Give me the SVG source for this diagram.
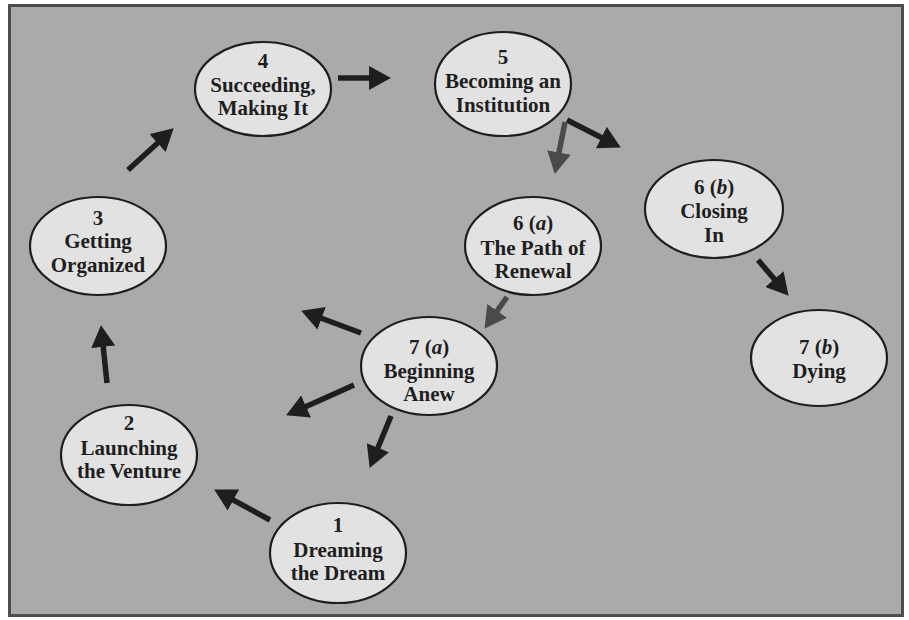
<svg xmlns="http://www.w3.org/2000/svg" width="909" height="620" viewBox="0 0 909 620">
<style>
.node ellipse{fill:#e2e2e2;stroke:#1e1e1e;stroke-width:2.2}
.node text{font-family:"Liberation Serif","Times New Roman",serif;font-weight:bold;font-size:21px;fill:#1e1e1e;text-anchor:middle}
.arr{stroke:#1e1e1e;stroke-width:5.5;fill:none;marker-end:url(#ah)}
.arr.g{stroke:#4a4a4a;marker-end:url(#ahg)}
</style>
<defs>
<marker id="ah" markerUnits="userSpaceOnUse" markerWidth="22" markerHeight="24" viewBox="0 0 20 22" refX="10" refY="11" orient="auto">
<path d="M0,0 L20,11 L0,22 Z" fill="#1e1e1e"/>
</marker>
<marker id="ahg" markerUnits="userSpaceOnUse" markerWidth="22" markerHeight="24" viewBox="0 0 20 22" refX="10" refY="11" orient="auto">
<path d="M0,0 L20,11 L0,22 Z" fill="#4a4a4a"/>
</marker>
</defs>
<rect x="0" y="0" width="909" height="620" fill="#ffffff"/>
<rect x="9.5" y="5.5" width="893" height="610" fill="#aaaaaa" stroke="#4d4d4d" stroke-width="3"/>
<g id="connectors">
<line class="arr" x1="338" y1="78" x2="380" y2="78"/>
<line class="arr" x1="567" y1="120" x2="611.1" y2="142.5"/>
<line class="arr g" x1="565" y1="122" x2="556.9" y2="163.2"/>
<line class="arr" x1="128" y1="170" x2="165.6" y2="135.7"/>
<line class="arr" x1="107" y1="383" x2="102.1" y2="336"/>
<line class="arr" x1="270" y1="520" x2="223.8" y2="494.8"/>
<line class="arr" x1="758" y1="260" x2="781.5" y2="287.4"/>
<line class="arr g" x1="507" y1="297" x2="490.8" y2="319.8"/>
<line class="arr" x1="361" y1="333" x2="311.4" y2="314.5"/>
<line class="arr" x1="354" y1="385" x2="296.1" y2="410.9"/>
<line class="arr" x1="391" y1="416" x2="373.8" y2="457.8"/>
</g>
<g id="n1" class="node"><ellipse cx="338" cy="553" rx="68" ry="50"/><text x="338" y="532">1</text><text x="338" y="557">Dreaming</text><text x="338" y="580">the Dream</text></g>
<g id="n2" class="node"><ellipse cx="129" cy="455" rx="68" ry="50"/><text x="129" y="430">2</text><text x="129" y="455">Launching</text><text x="129" y="478">the Venture</text></g>
<g id="n3" class="node"><ellipse cx="98" cy="246" rx="68" ry="49"/><text x="98" y="225">3</text><text x="98" y="248">Getting</text><text x="98" y="272">Organized</text></g>
<g id="n4" class="node"><ellipse cx="263" cy="89" rx="68" ry="47"/><text x="263" y="68">4</text><text x="263" y="92">Succeeding,</text><text x="263" y="115">Making It</text></g>
<g id="n5" class="node"><ellipse cx="503" cy="84" rx="68" ry="52"/><text x="503" y="64">5</text><text x="503" y="88">Becoming an</text><text x="503" y="112">Institution</text></g>
<g id="n6a" class="node"><ellipse cx="533" cy="246" rx="68" ry="49"/><text x="533" y="230">6 (<tspan font-style="italic">a</tspan>)</text><text x="533" y="255">The Path of</text><text x="533" y="278">Renewal</text></g>
<g id="n6b" class="node"><ellipse cx="714" cy="209" rx="69" ry="49"/><text x="714" y="194">6 (<tspan font-style="italic">b</tspan>)</text><text x="714" y="218">Closing</text><text x="714" y="242">In</text></g>
<g id="n7a" class="node"><ellipse cx="429" cy="366" rx="68" ry="49"/><text x="429" y="354">7 (<tspan font-style="italic">a</tspan>)</text><text x="429" y="378">Beginning</text><text x="429" y="401">Anew</text></g>
<g id="n7b" class="node"><ellipse cx="819" cy="358" rx="68" ry="48"/><text x="819" y="354">7 (<tspan font-style="italic">b</tspan>)</text><text x="819" y="378">Dying</text></g>
</svg>
